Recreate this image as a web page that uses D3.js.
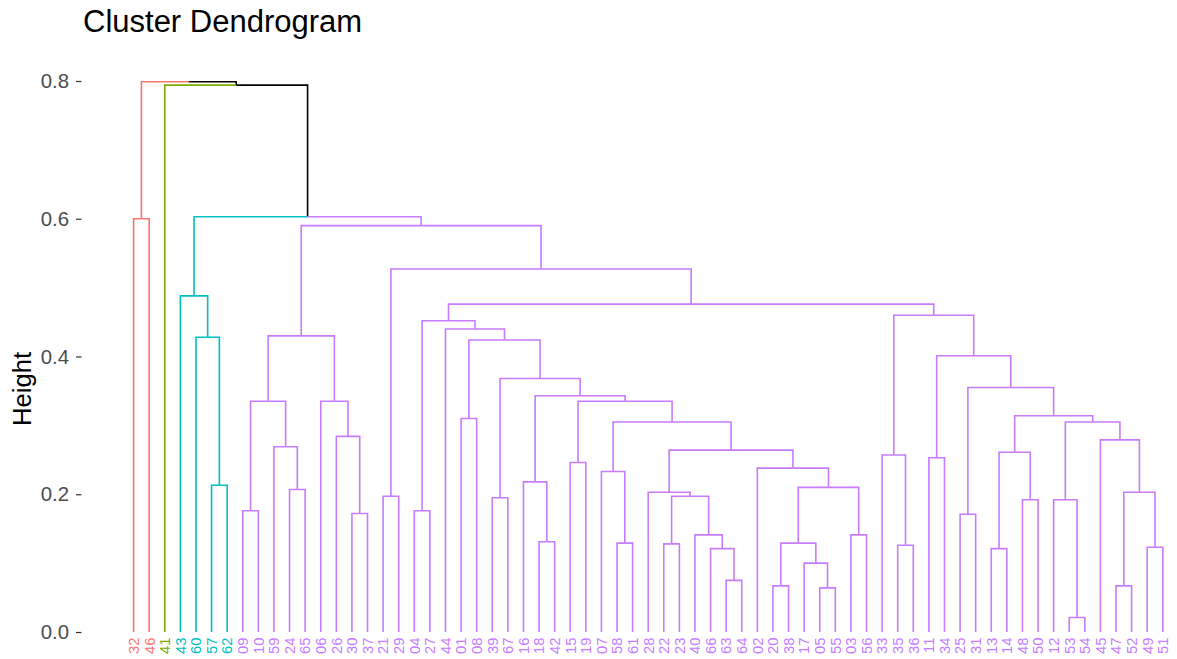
<!DOCTYPE html>
<html>
<head>
<meta charset="utf-8">
<script src="https://cdn.jsdelivr.net/npm/d3@7"></script>
<style>
  html, body { margin: 0; padding: 0; background: #ffffff; }
  svg { display: block; font-family: "Liberation Sans", Arial, sans-serif; }
</style>
</head>
<body>
<svg id="chart" width="1177" height="659"></svg>
<script>
// Merge steps of the hierarchical clustering, hclust style.
// A string is an observation label, a number refers to an earlier merge (1-based).
const mergeLeft  = ["53","05","20","47","63","17","66","13","49","35","22","58", 3,"18","40","03","09","04","25","30","12","48","39", 11,"21","28",  4,"24", 13,"57","16","07","02","15","11","33",  8, 26,"59","45","26", 32, 21,"01", 37,"06", 17, 34, 31, 19, 23, 35, 44,"60", 47,"44", 18, 36, 57,"43", 25, 55,"32", 60,"41", 63];
const mergeRight = ["54","55","38","52","64",  2,  5,"14","51","36","23","61",  6,"42",  7,"56","10","27","31","37",  1,"50","67", 15,"29", 24,  9,"65", 16,"62", 14, 12, 29,"19","34", 10, 22, 33, 28, 27, 20, 38, 40,"08", 43, 41, 39, 42, 48, 45, 49, 50, 51, 30, 46, 53, 56, 52, 58, 54, 59, 61,"46", 62, 64, 65];
const mergeHeight = [0.021,0.064,0.067,0.067,0.075,0.100,0.121,0.121,0.123,0.126,0.128,0.129,0.129,0.131,0.141,0.141,
                     0.176,0.176,0.171,0.172,0.192,0.192,0.195,0.197,0.197,0.203,0.203,0.207,0.210,0.213,0.218,0.233,
                     0.238,0.246,0.253,0.257,0.261,0.264,0.269,0.279,0.284,0.305,0.305,0.310,0.314,0.335,0.335,0.335,
                     0.343,0.355,0.368,0.401,0.424,0.428,0.430,0.440,0.452,0.460,0.476,0.488,0.527,0.590,0.600,0.603,
                     0.794,0.799];

// k = 4 clusters: the subtree that starts each cluster, and its colour
const clusterRoots  = [63, "41", 60, 62];
const clusterColors = ["#F8766D", "#7CAE00", "#00BFC4", "#C77CFF"];

const heightTicks = [0.0, 0.2, 0.4, 0.6, 0.8];
const titleText = "Cluster Dendrogram";
const yTitle = "Height";

// ---- build the tree from the merge list ----
function buildNode(ref) {
  if (typeof ref === "string") return { name: ref, height: 0, key: ref };
  const i = ref - 1;
  return {
    name: "m" + ref, key: ref, height: mergeHeight[i],
    children: [buildNode(mergeLeft[i]), buildNode(mergeRight[i])]
  };
}
const root = d3.hierarchy(buildNode(mergeHeight.length));
const leaves = root.leaves();
const leafOrder = leaves.map(d => d.data.name);

// ---- scales ----
const x = d3.scalePoint().domain(leafOrder).range([133.6, 1162.8]);
const y = d3.scaleLinear().domain([0, 0.8]).range([632, 81]);

root.eachAfter(d => {
  d.px = d.children ? d3.mean(d.children, c => c.px) : x(d.data.name);
  d.py = y(d.data.height);
});

// colour: inherited from the cluster subtree a node belongs to, black above the cut
root.each(d => {
  const ci = clusterRoots.indexOf(d.data.key);
  if (ci >= 0) d.color = clusterColors[ci];
  else d.color = d.parent && d.parent.color ? d.parent.color : "#000000";
});

const svg = d3.select("#chart");

// ---- branches: horizontal at the parent's height, then down to the child ----
svg.append("g")
  .attr("fill", "none")
  .attr("stroke-width", 1.6)
  .selectAll("path")
  .data(root.descendants().filter(d => d.parent))
  .join("path")
  .attr("stroke", d => d.color)
  .attr("d", d => `M${d.parent.px},${d.parent.py}H${d.px}V${d.py}`);

// ---- leaf labels ----
svg.append("g")
  .selectAll("text")
  .data(leaves)
  .join("text")
  .attr("transform", d => `translate(${d.px},637.5) rotate(-90)`)
  .attr("text-anchor", "end")
  .attr("dy", "0.36em")
  .attr("font-size", 14.8)
  .attr("fill", d => d.color)
  .text(d => d.data.name);

// ---- y axis ----
const axis = svg.append("g")
  .attr("transform", "translate(81.5,0)")
  .call(d3.axisLeft(y).tickValues(heightTicks).tickFormat(d3.format(".1f")).tickSize(5.5).tickPadding(7));
axis.select(".domain").remove();
axis.selectAll(".tick line").attr("stroke", "#333333").attr("stroke-width", 1.2);
axis.selectAll(".tick text")
  .attr("fill", "#4D4D4D")
  .attr("font-size", 20.4)
  .attr("font-family", "Liberation Sans, Arial, sans-serif");

// ---- titles ----
svg.append("text")
  .attr("x", 83)
  .attr("y", 31.5)
  .attr("font-size", 31)
  .attr("fill", "#000000")
  .text(titleText);

svg.append("text")
  .attr("transform", "translate(31,389) rotate(-90)")
  .attr("text-anchor", "middle")
  .attr("font-size", 25.6)
  .attr("fill", "#000000")
  .text(yTitle);
</script>
</body>
</html>
